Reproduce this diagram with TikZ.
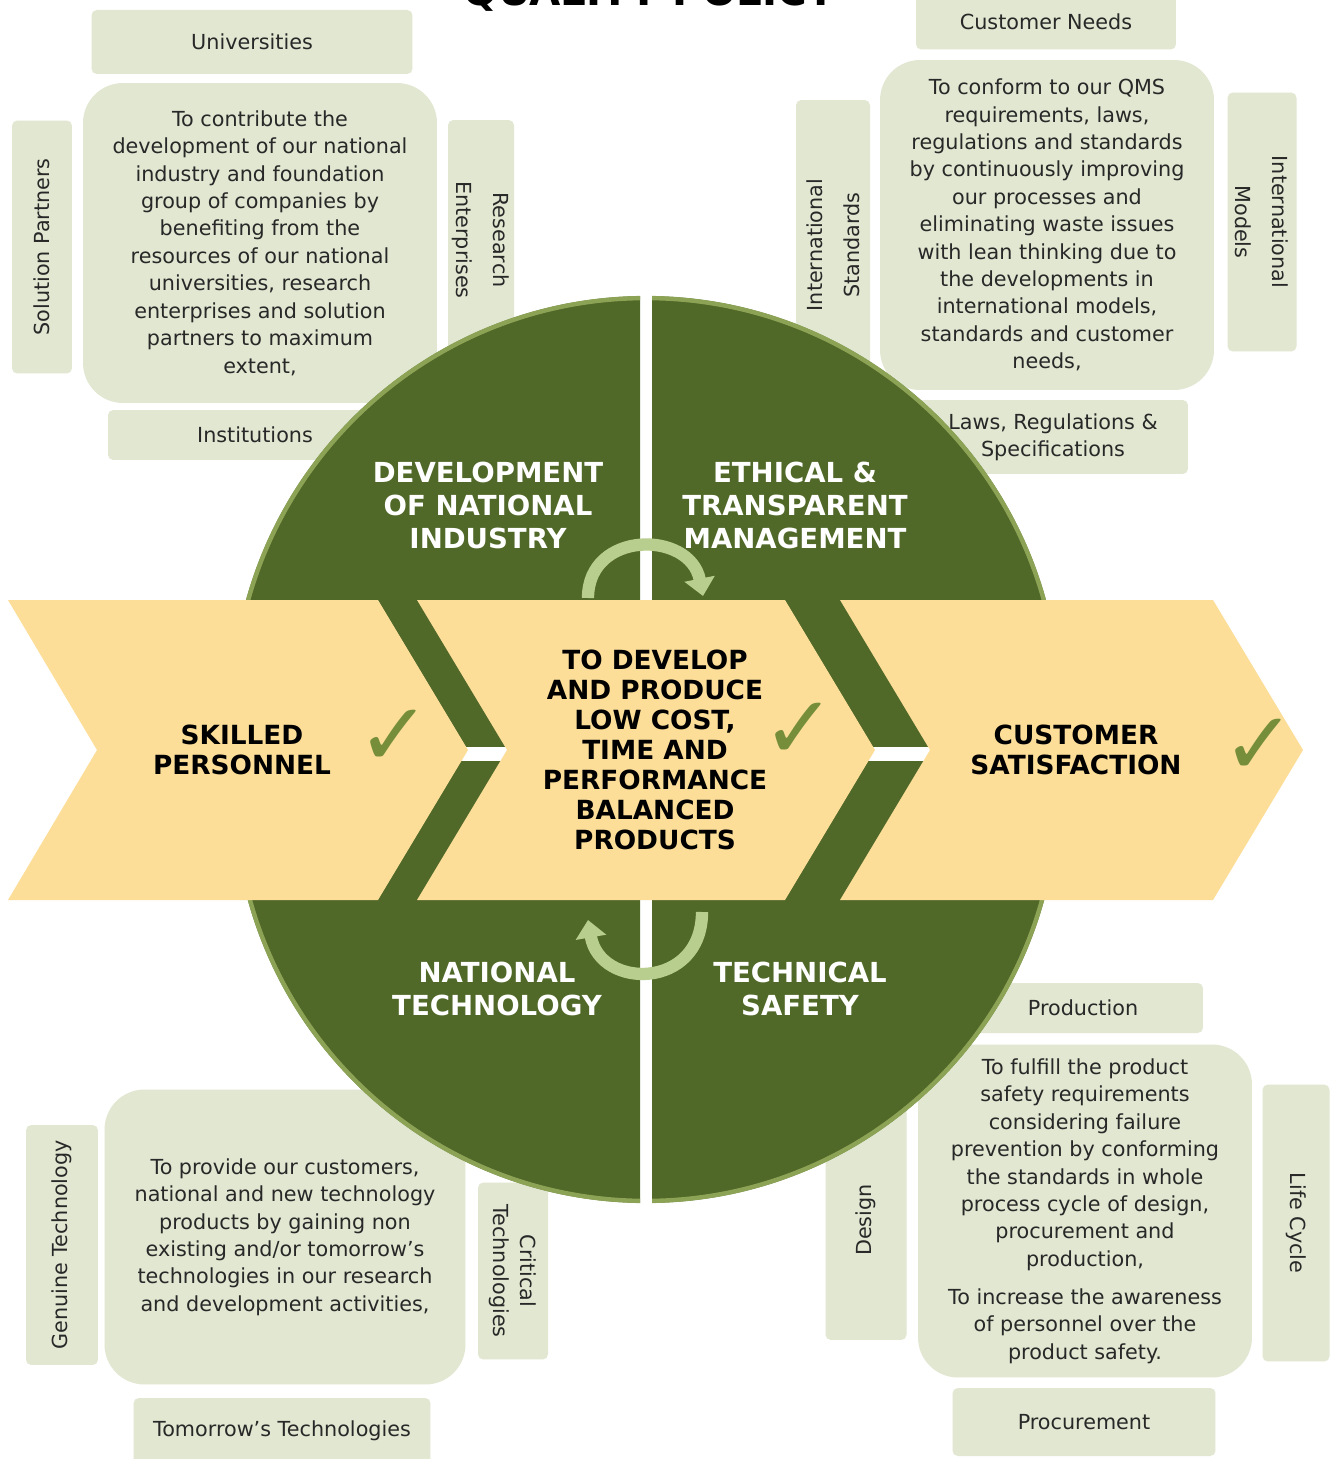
\documentclass[tikz,border=0pt]{standalone}
\usepackage{fontspec}
\setmainfont{DejaVu Sans}
\usetikzlibrary{arrows.meta}
\definecolor{qgreen}{RGB}{80,104,40}
\definecolor{qrim}{RGB}{140,163,86}
\definecolor{qsand}{RGB}{252,222,153}
\definecolor{qsage}{RGB}{225,231,209}
\definecolor{qtext}{RGB}{40,40,40}
\definecolor{qcheck}{RGB}{118,142,58}
\definecolor{qarrow}{RGB}{184,206,142}

\begin{document}
\begin{tikzpicture}[x=0.02cm, y=-0.02cm]
    \tikzstyle{sagebox}=[fill=qsage, text=qtext, rounded corners=3pt, inner sep=0pt, align=center, font=\fontsize{11.8}{15.6}\selectfont]
    \tikzstyle{bigbox}=[sagebox, rounded corners=0.8cm]
    \tikzstyle{sidebox}=[sagebox, font=\fontsize{11.8}{21}\selectfont]
    \tikzstyle{chevtext}=[font=\bfseries\fontsize{15}{17}\selectfont, align=center, text=black]
    \tikzstyle{quartext}=[font=\bfseries\fontsize{15.7}{18.8}\selectfont, align=center, text=white]
    \tikzstyle{tickmark}=[text=qcheck, font=\fontsize{50}{50}\selectfont]
    \tikzstyle{bendarrow}=[qarrow, line width=7pt, -{Triangle[width=17pt,length=10pt]}]

    \fill[white] (0,0) rectangle (1339,1459);
    \useasboundingbox (0,0) rectangle (1339,1459);

    \node (title) at (650,6) [anchor=base, font=\bfseries\fontsize{23}{23}\selectfont] {QUALITY POLICY};

    \node (univ) at (252,42) [sagebox, minimum width=6.42cm, minimum height=1.28cm] {Universities};
    \node (devtext) at (260,243) [bigbox, minimum width=7.08cm, minimum height=6.4cm] {To contribute the\\development of our national\\industry and foundation\\group of companies by\\benefiting from the\\resources of our national\\universities, research\\enterprises and solution\\partners to maximum\\extent,};
    \node (solpart) at (42,247) [sidebox, rotate=90, minimum width=5.06cm, minimum height=1.2cm] {Solution Partners};
    \node (research) at (481,240) [sidebox, rotate=-90, minimum width=4.8cm, minimum height=1.32cm] {Research\\Enterprises};
    \node (inst) at (255,435) [sagebox, minimum width=5.88cm, minimum height=1cm] {Institutions};

    \node (custneeds) at (1046,22) [sagebox, minimum width=5.2cm, minimum height=1.1cm] {Customer Needs};
    \node (qmstext) at (1047,225) [bigbox, minimum width=6.68cm, minimum height=6.6cm] {To conform to our QMS\\requirements, laws,\\regulations and standards\\by continuously improving\\our processes and\\eliminating waste issues\\with lean thinking due to\\the developments in\\international models,\\standards and customer\\needs,};
    \node (intstd) at (833,245) [sidebox, rotate=90, minimum width=5.8cm, minimum height=1.48cm] {International\\Standards};
    \node (intmod) at (1262,222) [sidebox, rotate=-90, minimum width=5.18cm, minimum height=1.38cm] {International\\Models};
    \node (laws) at (1053,437) [sagebox, minimum width=5.4cm, minimum height=1.48cm] {Laws, Regulations \&\\Specifications};

    \node (natech) at (285,1237) [bigbox, minimum width=7.22cm, minimum height=5.9cm] {To provide our customers,\\national and new technology\\products by gaining non\\existing and/or tomorrow’s\\technologies in our research\\and development activities,};
    \node (genuine) at (62,1245) [sidebox, rotate=90, minimum width=4.8cm, minimum height=1.44cm] {Genuine Technology};
    \node (critical) at (513,1271) [sagebox, rotate=-90, minimum width=3.54cm, minimum height=1.4cm] {Critical\\Technologies};
    \node (tomorrow) at (282,1431) [sagebox, minimum width=5.94cm, minimum height=1.32cm] {Tomorrow’s Technologies};

    \node (production) at (1083,1008) [sagebox, minimum width=4.8cm, minimum height=1cm] {Production};
    \node (safety) at (1085,1211) [bigbox, minimum width=6.68cm, minimum height=6.66cm] {To fulfill the product\\safety requirements\\considering failure\\prevention by conforming\\the standards in whole\\process cycle of design,\\procurement and\\production,\\[6pt]To increase the awareness\\of personnel over the\\product safety.};
    \node (design) at (866,1220) [sidebox, rotate=90, minimum width=4.8cm, minimum height=1.62cm] {Design};
    \node (lifecycle) at (1296,1223) [sidebox, rotate=-90, minimum width=5.54cm, minimum height=1.34cm] {Life Cycle};
    \node (procure) at (1084,1422) [sagebox, minimum width=5.26cm, minimum height=1.36cm] {Procurement};

    \begin{scope}
        \clip (0,0) rectangle (640,746);
        \fill[qgreen] (646,711) circle[radius=8.3cm];
        \draw[qrim, line width=2.5pt] (646,711) circle[radius=8.26cm];
    \end{scope}
    \begin{scope}
        \clip (652,0) rectangle (1339,746);
        \fill[qgreen] (646,711) circle[radius=8.3cm];
        \draw[qrim, line width=2.5pt] (646,711) circle[radius=8.26cm];
    \end{scope}
    \begin{scope}
        \clip (0,761) rectangle (640,1459);
        \fill[qgreen] (646,790) circle[radius=8.26cm];
        \draw[qrim, line width=2.5pt] (646,790) circle[radius=8.22cm];
    \end{scope}
    \begin{scope}
        \clip (652,761) rectangle (1339,1459);
        \fill[qgreen] (646,790) circle[radius=8.26cm];
        \draw[qrim, line width=2.5pt] (646,790) circle[radius=8.22cm];
    \end{scope}

    \node (devlabel) at (488,505) [quartext] {DEVELOPMENT\\OF NATIONAL\\INDUSTRY};
    \node (ethlabel) at (795,505) [quartext] {ETHICAL \&\\TRANSPARENT\\MANAGEMENT};
    \node (natlabel) at (497,989) [quartext] {NATIONAL\\TECHNOLOGY};
    \node (saflabel) at (800,989) [quartext] {TECHNICAL\\SAFETY};

    \coordinate (topstart) at (588,598);
    \coordinate (topend) at (703,596);
    \coordinate (lowstart) at (702,912);
    \coordinate (lowend) at (588,920);
    \draw[bendarrow] (topstart) .. controls (588,530) and (690,530) .. (topend);
    \draw[bendarrow] (lowstart) .. controls (702,990) and (600,990) .. (lowend);

    \fill[qsand] (8,600) -- (378,600) -- (468,750) -- (378,900) -- (8,900) -- (97,750) -- cycle;
    \fill[qsand] (417,600) -- (785,600) -- (875,750) -- (785,900) -- (417,900) -- (507,750) -- cycle;
    \fill[qsand] (840,600) -- (1213,600) -- (1303,750) -- (1213,900) -- (840,900) -- (930,750) -- cycle;

    \node (skilled) at (242,750) [chevtext] {SKILLED\\PERSONNEL};
    \node (develop) at (655,750) [chevtext] {TO DEVELOP\\AND PRODUCE\\LOW COST,\\TIME AND\\PERFORMANCE\\BALANCED\\PRODUCTS};
    \node (satisf) at (1076,750) [chevtext] {CUSTOMER\\SATISFACTION};

    \node (tick1) at (394,738) [tickmark] {✓};
    \node (tick2) at (799,731) [tickmark] {✓};
    \node (tick3) at (1259,747) [tickmark] {✓};
\end{tikzpicture}
\end{document}
